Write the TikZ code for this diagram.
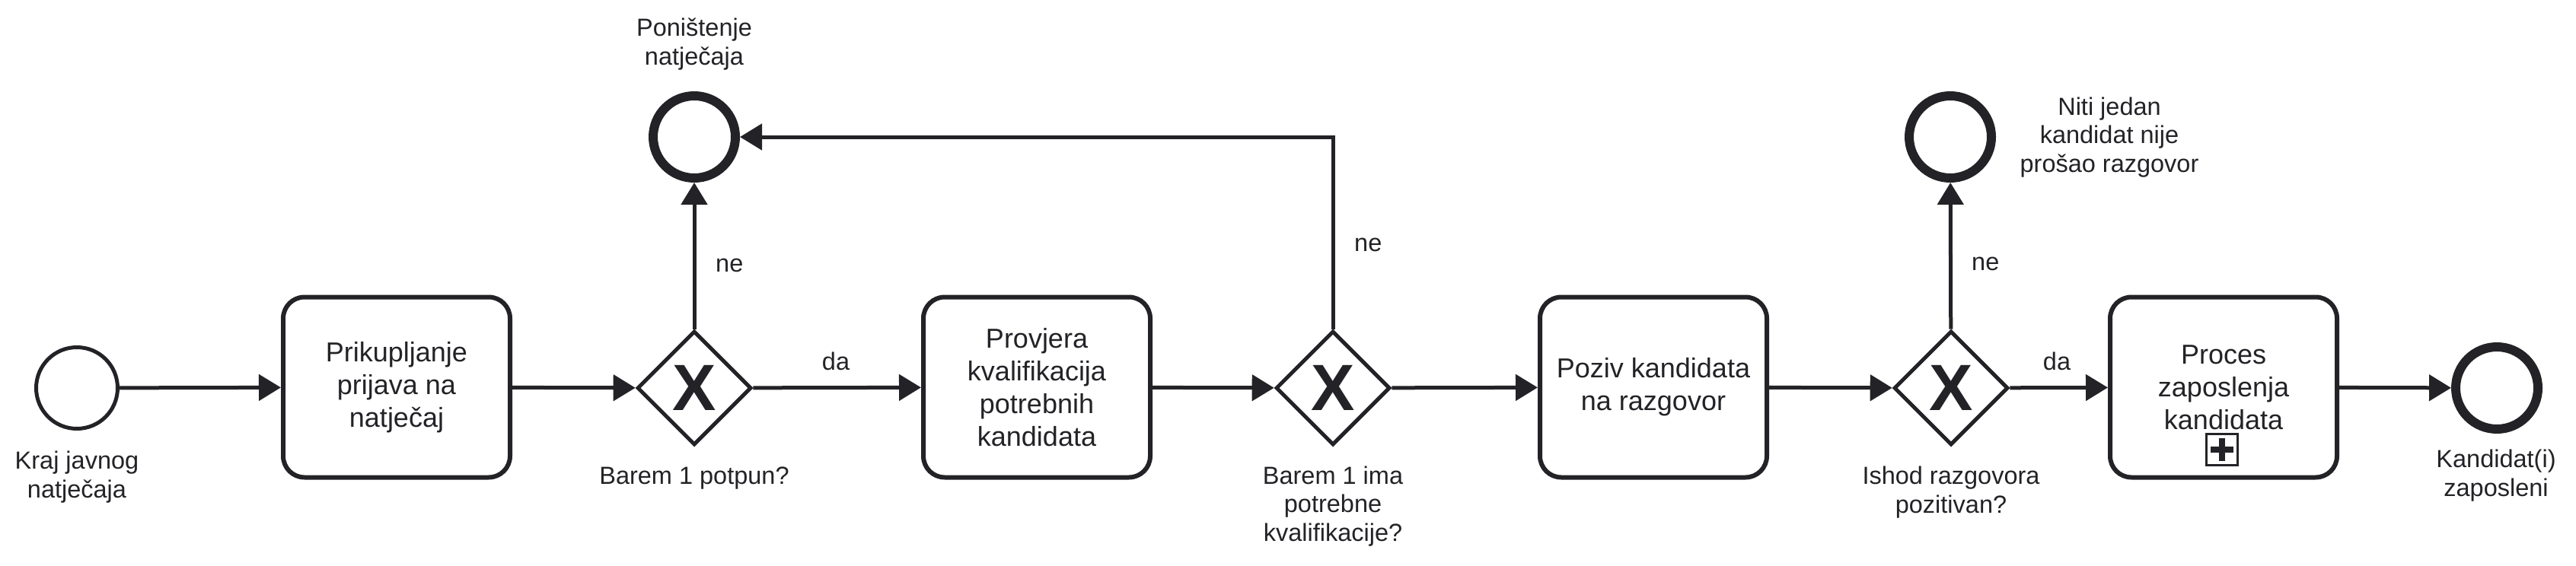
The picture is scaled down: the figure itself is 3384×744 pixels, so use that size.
\documentclass[tikz,border=0pt]{standalone}
\usepackage{fontspec}
\setmainfont{Liberation Sans}
\usetikzlibrary{shapes.geometric,arrows.meta}
\definecolor{ink}{RGB}{35,35,39}
\begin{document}
\begin{tikzpicture}[x=1pt,y=-1pt,
  startev/.style={circle,draw=ink,fill=white,line width=5pt,minimum size=107pt,inner sep=0pt},
  endev/.style={circle,draw=ink,fill=white,line width=12pt,minimum size=108pt,inner sep=0pt},
  task/.style={rectangle,rounded corners=28pt,draw=ink,fill=white,line width=6pt,minimum width=298pt,minimum height=237pt,align=center,text=ink,font=\fontsize{36}{43.2}\selectfont,inner sep=0pt},
  gw/.style={diamond,draw=ink,fill=white,line width=5pt,minimum width=150pt,minimum height=150pt,inner sep=0pt,text=ink,font=\fontsize{86}{86}\selectfont\bfseries},
  lbl/.style={align=center,text=ink,font=\fontsize{32.5}{37.5}\selectfont,inner sep=0pt,anchor=base},
  lblL/.style={lbl,anchor=base west},
  flow/.style={draw=ink,line width=5pt,-{Triangle[length=29pt,width=34pt]}},
]
\useasboundingbox (0,0) rectangle (3384,744);
\fill[white] (0,0) rectangle (3384,744);

% nodes
\node[startev] (S) at (101,510) {};
\node[task] (T1) at (521,509) {Prikupljanje\\prijava na\\natječaj};
\node[gw] (G1) at (912,510) {X};
\node[endev] (E1) at (912,180) {};
\node[task] (T2) at (1362,509) {Provjera\\kvalifikacija\\potrebnih\\kandidata};
\node[gw] (G2) at (1751,510) {X};
\node[task] (T3) at (2172,509) {Poziv kandidata\\na razgovor};
\node[gw] (G3) at (2563,510) {X};
\node[endev] (E2) at (2562,180) {};
\node[task] (T4) at (2921,509) {Proces\\zaposlenja\\kandidata};
\node[endev] (E3) at (3280,510) {};

% subprocess marker
\node[draw=ink,line width=3pt,minimum size=41pt,inner sep=0pt] (PM) at (2919,591) {};
\draw[ink,line width=8pt] (PM.center) ++(-15,0) -- ++(30,0);
\draw[ink,line width=8pt] (PM.center) ++(0,-15) -- ++(0,30);

% connectors
\draw[flow] (S) -- (T1);
\draw[flow] (T1) -- (G1);
\draw[flow] (G1) -- (T2);
\draw[flow] (G1) -- (E1);
\draw[flow] (T2) -- (G2);
\draw[flow] (G2) -- (T3);
\draw[flow] (G2.north) |- (E1.east);
\draw[flow] (T3) -- (G3);
\draw[flow] (G3) -- (E2);
\draw[flow] (G3) -- (T4);
\draw[flow] (T4) -- (E3);

% labels (anchor base = baseline of the last line)
\node[lbl] (LS) at (101,654) {Kraj javnog\\natječaja};
\node[lbl] (LE1) at (912,85) {Poništenje\\natječaja};
\node[lbl] (LG1) at (912,636) {Barem 1 potpun?};
\node[lbl] (LG2) at (1751,711) {Barem 1 ima\\potrebne\\kvalifikacije?};
\node[lbl] (LE2) at (2771,226) {Niti jedan\\kandidat nije\\prošao razgovor};
\node[lbl] (LG3) at (2563,674) {Ishod razgovora\\pozitivan?};
\node[lbl] (LE3) at (3279,652) {Kandidat(i)\\zaposleni};
\node[lblL] (N1) at (940,357) {ne};
\node[lblL] (N2) at (1779,330) {ne};
\node[lblL] (N3) at (2590,355) {ne};
\node[lbl] (D1) at (1098,486) {da};
\node[lbl] (D3) at (2702,486) {da};
\end{tikzpicture}
\end{document}
